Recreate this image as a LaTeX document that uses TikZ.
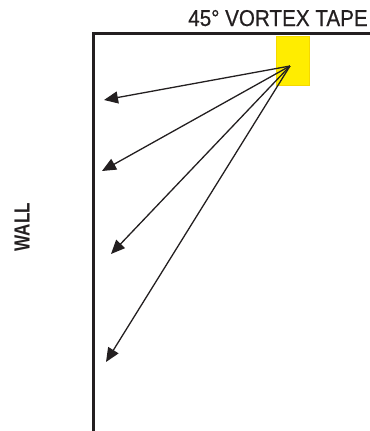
\documentclass[tikz,border=0pt]{standalone}
\usepackage{fontspec}
\usetikzlibrary{arrows.meta}
\newfontfamily\tapefont[FakeStretch=0.9, FakeBold=0.6]{Liberation Sans}
\newfontfamily\wallfont[FakeStretch=0.78]{Liberation Sans Bold}
\definecolor{wallink}{HTML}{231F20}
\definecolor{tapeyellow}{HTML}{FFED00}
\definecolor{tapeedge}{HTML}{F5D800}

\begin{document}
\begin{tikzpicture}[x=1bp, y=-1bp]
        \useasboundingbox (0,0) rectangle (370,431);
        % wall and ceiling
        \coordinate (ceil) at (370,33);
        \coordinate (corner) at (93,33);
        \coordinate (floor) at (93,431);
        \draw[wallink, line width=3bp] (ceil) -- (corner) -- (floor);
        \node[fill=tapeyellow, draw=tapeedge, line width=0.4bp, inner sep=0pt,
              minimum width=33bp, minimum height=49bp] (tape) at (292.5,60.5) {};
        \node[text=wallink, anchor=base, font=\tapefont\fontsize{23}{24}\selectfont] (title) at (278,26) {45° VORTEX TAPE};
        \node[text=wallink, anchor=center, rotate=90, font=\wallfont\fontsize{22}{24}\selectfont] (wall) at (22,227) {WALL};
        % spray from the tape
        \coordinate (src) at (290,66);
        \coordinate (t1) at (104,100);
        \coordinate (t2) at (102,171);
        \coordinate (t3) at (111,254);
        \coordinate (t4) at (106,362);
        \foreach \t in {t1,t2,t3,t4}
          \draw[wallink, line width=1.3bp, -{Triangle[length=14bp, width=12bp]}] (src) -- (\t);
      \end{tikzpicture}
\end{document}
